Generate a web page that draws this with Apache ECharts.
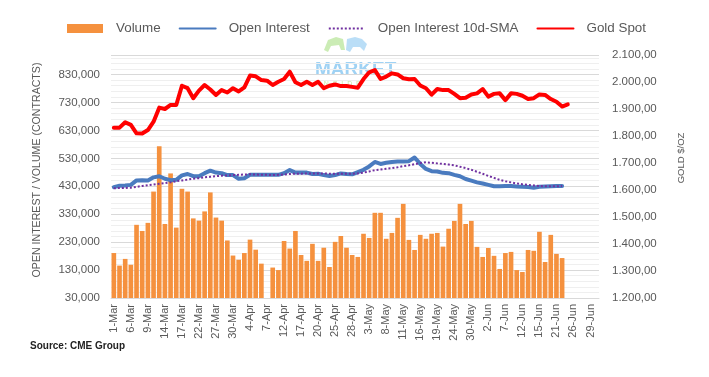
<!DOCTYPE html>
<html>
<head>
<meta charset="utf-8">
<script src="https://cdn.jsdelivr.net/npm/echarts@6.0.0/dist/echarts.min.js"></script>
<style>
html, body { margin: 0; padding: 0; background: #fff; }
#main { width: 709px; height: 377px; }
</style>
</head>
<body>
<div id="main"></div>
<script>
// trading days, 1-Mar .. 30-Jun
var dates = [
	'1-Mar','2-Mar','3-Mar','6-Mar','7-Mar','8-Mar','9-Mar','10-Mar','13-Mar','14-Mar','15-Mar','16-Mar','17-Mar',
	'20-Mar','21-Mar','22-Mar','23-Mar','24-Mar','27-Mar','28-Mar','29-Mar','30-Mar','31-Mar',
	'3-Apr','4-Apr','5-Apr','6-Apr','7-Apr','10-Apr','11-Apr','12-Apr','13-Apr','14-Apr','17-Apr','18-Apr','19-Apr',
	'20-Apr','21-Apr','24-Apr','25-Apr','26-Apr','27-Apr','28-Apr',
	'1-May','2-May','3-May','4-May','5-May','8-May','9-May','10-May','11-May','12-May','15-May','16-May','17-May',
	'18-May','19-May','22-May','23-May','24-May','25-May','26-May','30-May','31-May',
	'1-Jun','2-Jun','5-Jun','6-Jun','7-Jun','8-Jun','9-Jun','12-Jun','13-Jun','14-Jun','15-Jun','16-Jun','20-Jun',
	'21-Jun','22-Jun','23-Jun','26-Jun','27-Jun','28-Jun','29-Jun','30-Jun'
];

// volume, thousands of contracts (7-Apr empty)
var volumeK = [
	191,146,170,149,292,270,299,411,573,295,
	476,282,421,411,315,307,340,408,318,307,
	236,182,167,191,239,203,153,null,139,130,
	234,207,270,184,163,224,163,210,141,231,
	252,210,184,177,260,245,335,335,242,263,
	317,367,238,202,256,242,260,263,214,278,
	306,367,295,306,213,177,209,181,134,191,
	195,130,123,202,199,267,159,256,188,173
];

// open interest, thousands
var openInterestK = [
	427,432,433,435,451,452,451,462,466,457,
	452,453,469,474,466,466,477,486,479,477,
	470,470,457,459,471,471,471,471,471,471,
	477,488,479,479,479,474,475,470,467,470,
	476,474,473,481,489,501,517,510,514,517,
	519,519,520,533,510,492,484,483,478,477,
	471,466,456,450,444,440,435,430,430,431,
	431,429,428,427,425,428,429,430,431,431
];

// open interest 10d-SMA, thousands
var smaK = [
	423,424,424,425,428,431,434,436,439,441,
	444,448,451,454,457,459,462,464,466,468,
	469,470,471,472,473,472,471,471,470,471,
	472,474,475,475,476,476,476,476,475,475,
	475,475,475,476,479,483,488,490,493,495,
	498,502,505,509,513,516,514,512,510,508,
	505,500,495,489,482,475,467,460,453,448,
	444,440,437,435,433,431,430,430,430,431
];

// gold spot $/oz
var goldSpot = [
	1831,1831,1851,1841,1810,1809,1822,1853,1905,1900,
	1915,1915,1986,1977,1940,1968,1989,1972,1952,1970,
	1961,1977,1965,1980,2024,2021,2007,2005,1989,2001,
	2011,2038,1999,1989,2001,1989,2001,1977,1986,1991,
	1985,1985,1982,1979,2011,2036,2044,2011,2020,2032,
	2028,2014,2010,2011,1987,1977,1953,1974,1970,1970,
	1956,1940,1942,1954,1958,1974,1946,1956,1958,1933,
	1958,1956,1949,1937,1940,1954,1952,1937,1927,1909,
	1917
];

var grey = '#595959';
var font = "'Liberation Sans', Arial, sans-serif";

function k(arr){
	return arr.map(function(v){ return v == null ? null : v * 1000; });
}

// 2100 -> "2.100,00"
function fmtGold(v){
	var s = v.toFixed(2).split('.');
	return s[0].replace(/\B(?=(\d{3})+(?!\d))/g, '.') + ',' + s[1];
}

var noDot = { opacity: 0 };

var chart = echarts.init(document.getElementById('main'));
chart.setOption({
	animation: false,
	backgroundColor: '#fff',
	textStyle: { fontFamily: font },
	legend: {
		left: 62,
		top: 17,
		itemWidth: 36,
		itemHeight: 9,
		itemGap: 18,
		textStyle: { fontSize: 13.4, color: grey, fontFamily: font, padding: [0, 0, 0, 8] },
		data: [
			{ name: 'Volume', icon: 'rect' },
			{ name: 'Open Interest', itemStyle: noDot },
			{ name: 'Open Interest 10d-SMA', itemStyle: noDot },
			{ name: 'Gold Spot', itemStyle: noDot }
		]
	},
	grid: { left: 111, right: 110, top: 55, bottom: 79 },
	xAxis: {
		type: 'category',
		data: dates,
		axisLine: { lineStyle: { color: '#d9d9d9' } },
		axisTick: { interval: 0, length: 4, lineStyle: { color: '#d9d9d9' } },
		axisLabel: { interval: 2, rotate: 90, fontSize: 11, color: grey, margin: 6 }
	},
	yAxis: [{
		type: 'value',
		min: 30000,
		max: 900000,
		interval: 100000,
		axisLine: { show: false },
		axisTick: { show: false },
		axisLabel: { showMaxLabel: false, fontSize: 11.5, color: grey, margin: 11 },
		splitLine: { lineStyle: { color: '#d9d9d9' } },
		minorTick: { show: false, splitNumber: 5 },
		minorSplitLine: { show: true, lineStyle: { color: '#efefef' } }
	}, {
		type: 'value',
		min: 1200,
		max: 2100,
		interval: 100,
		axisLine: { show: false },
		axisTick: { show: false },
		splitLine: { show: false },
		axisLabel: { fontSize: 11.5, color: grey, margin: 13, formatter: fmtGold }
	}],
	series: [{
		name: 'Volume',
		type: 'bar',
		barCategoryGap: '18%',
		itemStyle: { color: '#f5913e' },
		data: k(volumeK)
	}, {
		name: 'Open Interest',
		type: 'line',
		showSymbol: false,
		symbol: 'none',
		lineStyle: { color: '#4a7bbf', width: 4, cap: 'round', join: 'round' },
		itemStyle: { color: '#4a7bbf' },
		data: k(openInterestK)
	}, {
		name: 'Open Interest 10d-SMA',
		type: 'line',
		showSymbol: false,
		symbol: 'none',
		lineStyle: { color: '#7030a0', width: 2, type: [2, 2] },
		itemStyle: { color: '#7030a0' },
		data: k(smaK)
	}, {
		name: 'Gold Spot',
		type: 'line',
		yAxisIndex: 1,
		showSymbol: false,
		symbol: 'none',
		lineStyle: { color: '#ff0000', width: 4, cap: 'round', join: 'round' },
		itemStyle: { color: '#ff0000' },
		data: goldSpot
	}],
	graphic: [{
		// faint bull / bear watermark
		type: 'polygon', z: -1,
		shape: { points: [[324, 50], [328, 40], [336, 37], [343, 39], [345, 50], [341, 50], [339, 45], [331, 46], [328, 52]] },
		style: { fill: 'rgba(160,220,120,0.55)' }
	}, {
		type: 'polygon', z: -1,
		shape: { points: [[346, 50], [347, 39], [355, 37], [362, 39], [367, 44], [364, 51], [360, 47], [353, 47], [350, 52]] },
		style: { fill: 'rgba(130,195,240,0.55)' }
	}, {
		type: 'text', left: 315, top: 60, z: -1,
		style: { text: 'MARKET', font: "bold 19px " + font, fill: '#9fd2f4' }
	}, {
		type: 'text', left: 318, top: 81, z: -1,
		style: { text: 'I  N  S  I  D  E', font: "7px " + font, fill: '#c8e9a8' }
	}, {
		type: 'text', x: 37, y: 170, rotation: Math.PI / 2,
		style: { text: 'OPEN INTEREST / VOLUME (CONTRACTS)', font: "10.6px " + font, fill: grey, align: 'center', verticalAlign: 'middle' }
	}, {
		type: 'text', x: 681, y: 158, rotation: Math.PI / 2,
		style: { text: 'GOLD $/OZ', font: "9.5px " + font, fill: grey, align: 'center', verticalAlign: 'middle' }
	}, {
		type: 'text', left: 30, top: 341,
		style: { text: 'Source: CME Group', font: "bold 10px " + font, fill: '#222', shadowColor: 'rgba(0,0,0,0.35)', shadowBlur: 3, shadowOffsetY: 1 }
	}]
});
</script>
</body>
</html>
